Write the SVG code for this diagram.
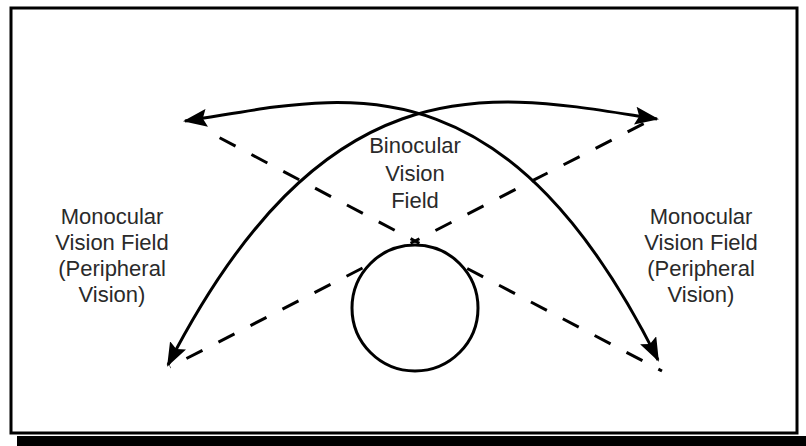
<svg xmlns="http://www.w3.org/2000/svg" width="806" height="446" viewBox="0 0 806 446">
  <style>
    .arc { fill: none; stroke: #000; stroke-width: 3; marker-start: url(#ah); marker-end: url(#ah); }
    .dash { fill: none; stroke: #000; stroke-width: 3; stroke-dasharray: 18 18; stroke-dashoffset: 13; }
    .lbl { font-family: "Liberation Sans", Arial, sans-serif; font-size: 22px; fill: #2a2a2a; text-anchor: middle; }
  </style>
  <defs>
    <marker id="ah" viewBox="0 0 24 18" refX="22" refY="9" markerWidth="24" markerHeight="18" markerUnits="userSpaceOnUse" orient="auto-start-reverse">
      <path d="M0,0 L24,9 L0,18 L4,9 z" fill="#000"/>
    </marker>
  </defs>
  <rect width="806" height="446" fill="#fff"/>
  <g id="frame">
    <rect x="11" y="8" width="786" height="425" fill="none" stroke="#000" stroke-width="3"/>
    <rect x="17" y="436" width="789" height="10" fill="#000"/>
  </g>
  <g id="connectors">
    <path class="dash" d="M415,241 L205,130"/>
    <path class="dash" d="M415,241 L662,371"/>
    <path class="dash" d="M415,241 L645,123"/>
    <path class="dash" d="M415,241 L170,367"/>
    <path class="arc" d="M185,121 C330,100 498,40 658,360"/>
    <path class="arc" d="M657,119 C500,95 330,50 168,365"/>
  </g>
  <g id="eye">
    <circle cx="415" cy="308" r="63" fill="#fff" stroke="#000" stroke-width="3"/>
  </g>
  <g id="binocular">
    <text class="lbl" x="415" y="153">Binocular</text>
    <text class="lbl" x="415" y="181">Vision</text>
    <text class="lbl" x="415" y="208">Field</text>
  </g>
  <g id="monocular-left">
    <text class="lbl" x="112" y="224">Monocular</text>
    <text class="lbl" x="112" y="250">Vision Field</text>
    <text class="lbl" x="112" y="276">(Peripheral</text>
    <text class="lbl" x="112" y="302">Vision)</text>
  </g>
  <g id="monocular-right">
    <text class="lbl" x="701" y="224">Monocular</text>
    <text class="lbl" x="701" y="250">Vision Field</text>
    <text class="lbl" x="701" y="276">(Peripheral</text>
    <text class="lbl" x="701" y="302">Vision)</text>
  </g>
</svg>
